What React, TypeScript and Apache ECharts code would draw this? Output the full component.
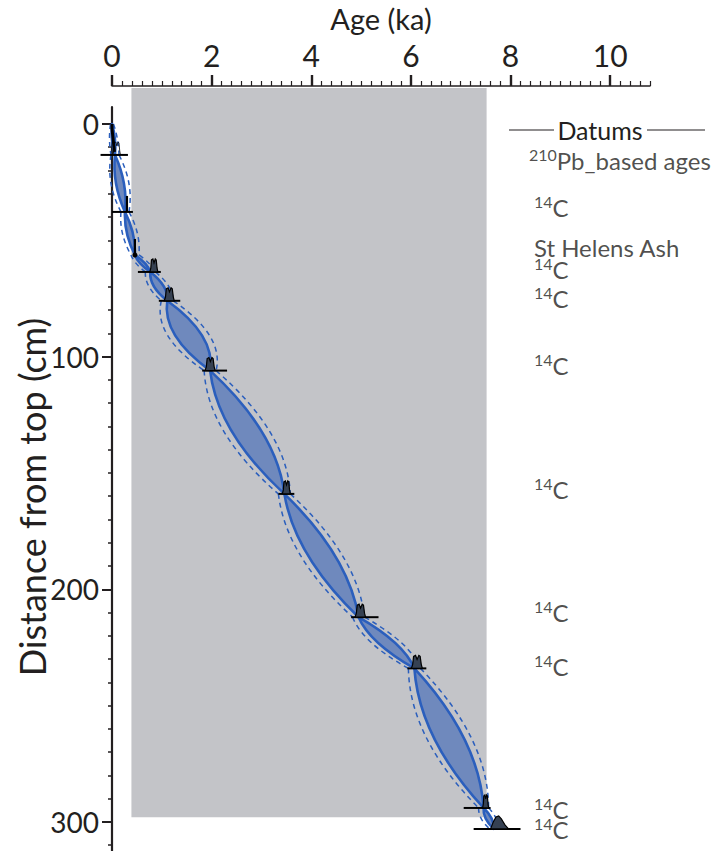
import React, { useEffect, useRef } from 'react';
import * as echarts from 'echarts';

// ---------- axes ----------
const X_MAX = 10.8;
const Y_MIN = -7.3;
const Y_MAX = 312.5;
const xMajorTicks = [0, 2, 4, 6, 8, 10];
const xMinorTicks = [0.2, 0.4, 0.6, 0.8, 1, 1.2, 1.4, 1.6, 1.8, 2.2, 2.4, 2.6, 2.8, 3, 3.2, 3.4, 3.6, 3.8, 4.2, 4.4, 4.6, 4.8, 5, 5.2, 5.4, 5.6, 5.8, 6.2, 6.4, 6.6, 6.8, 7, 7.2, 7.4, 7.6, 7.8, 8.2, 8.4, 8.6, 8.8, 9, 9.2, 9.4, 9.6, 9.8, 10.2, 10.4, 10.6, 10.8];
const yMajorTicks = [0, 100, 200, 300];
const yMinorTicks = [10, 20, 30, 40, 50, 60, 70, 80, 90, 110, 120, 130, 140, 150, 160, 170, 180, 190, 210, 220, 230, 240, 250, 260, 270, 280, 290, 310];

// ---------- shaded age window ----------
const shadeAges = [0.39, 7.52];
const shadeDepths = [-15.5, 298];

// ---------- age model (anchor points through the datums) ----------
const anchorAges = [0.0, 0.06, 0.26, 0.46, 0.77, 1.11, 1.97, 3.46, 4.95, 6.07, 7.46, 7.66];
const anchorDepths = [0, 13.3, 37.8, 56.3, 63.6, 76, 106, 159, 212, 234, 294, 303];
// half-width (ka) of the solid envelope at the middle of each segment
const bandHalfWidth = [0.03, 0.08, 0.06, 0.05, 0.1, 0.27, 0.3, 0.27, 0.17, 0.3, 0.06];
// half-width (ka) of the dashed envelope at the middle of each segment
const dashHalfWidth = [0.08, 0.18, 0.15, 0.13, 0.2, 0.42, 0.46, 0.42, 0.3, 0.45, 0.15];
// half-width (ka) of the dashed envelope at each anchor
const dashWaist = [0.03, 0.08, 0.08, 0.08, 0.1, 0.12, 0.12, 0.12, 0.12, 0.12, 0.1, 0.08];

// ---------- 210Pb dates ----------
const pbDepths = [0, 2, 4, 6, 8, 10, 12];
const pbAges = [0.0, 0.0, 0.01, 0.02, 0.03, 0.04, 0.05];

// ---------- datums ----------
const datumDepths = [13.3, 37.8, 56.3, 63.6, 76, 106, 159, 212, 234, 294, 303];
const datumLo = [-0.23, 0.0, 0.46, 0.52, 0.94, 1.81, 3.34, 4.8, 5.93, 7.06, 7.26];
const datumHi = [0.32, 0.42, 0.46, 0.98, 1.37, 2.31, 3.66, 5.35, 6.31, 7.6, 8.2];
const peakLo = [0.02, 0.3, 0.46, 0.76, 1.05, 1.87, 3.42, 4.88, 6.01, 7.44, 7.6];
const peakHi = [0.17, 0.3, 0.46, 0.92, 1.25, 2.07, 3.58, 5.09, 6.23, 7.56, 7.96];

// ---------- datum labels ----------
const labelSup = ['210', '14', '', '14', '14', '14', '14', '14', '14', '14', '14'];
const labelMain = ['Pb_based ages', 'C', 'St Helens Ash', 'C', 'C', 'C', 'C', 'C', 'C', 'C', 'C'];
const labelAges = [8.36, 8.46, 8.46, 8.46, 8.46, 8.46, 8.46, 8.46, 8.46, 8.46, 8.46];
const labelDepths = [15.9, 36.1, 53.3, 62.7, 75.2, 103.6, 157.3, 210, 233.4, 294.8, 303.4];

const FONT = 'Lato';
const TXT = '#231f20';
const GRAY = '#c3c4c8';
const BLUE = '#2b5fbd';
const BAND_FILL = '#6f89bd';

const Lens = (echarts.graphic as any).extendShape({
  type: 'lens',
  shape: { x1: 0, y1: 0, x2: 0, y2: 0, lx: 0, ly: 0, rx: 0, ry: 0 },
  buildPath(ctx: any, s: any) {
    ctx.moveTo(s.x1, s.y1);
    ctx.quadraticCurveTo(s.lx, s.ly, s.x2, s.y2);
    ctx.quadraticCurveTo(s.rx, s.ry, s.x1, s.y1);
    ctx.closePath();
  },
});
const QCurve = (echarts.graphic as any).extendShape({
  type: 'qcurve',
  shape: { x1: 0, y1: 0, x2: 0, y2: 0, cx: 0, cy: 0 },
  buildPath(ctx: any, s: any) {
    ctx.moveTo(s.x1, s.y1);
    ctx.quadraticCurveTo(s.cx, s.cy, s.x2, s.y2);
  },
});
(echarts.graphic as any).registerShape('lens', Lens);
(echarts.graphic as any).registerShape('qcurve', QCurve);

const segmentData = anchorAges.slice(0, -1).map((a, i) => [
  a, anchorDepths[i], anchorAges[i + 1], anchorDepths[i + 1],
  bandHalfWidth[i], dashHalfWidth[i], dashWaist[i], dashWaist[i + 1],
]);

function renderShade(params: any, api: any) {
  const p0 = api.coord([api.value(0), api.value(2)]);
  const p1 = api.coord([api.value(1), api.value(3)]);
  return {
    type: 'rect',
    shape: { x: p0[0], y: p0[1], width: p1[0] - p0[0], height: p1[1] - p0[1] },
    style: { fill: GRAY },
  };
}

function renderBand(params: any, api: any) {
  const p0 = api.coord([api.value(0), api.value(1)]);
  const p1 = api.coord([api.value(2), api.value(3)]);
  const k = api.size([1, 0])[0];
  const hw = api.value(4) * k;
  const dh = api.value(5) * k;
  const w0 = api.value(6) * k;
  const w1 = api.value(7) * k;
  const mx = (p0[0] + p1[0]) / 2;
  const my = (p0[1] + p1[1]) / 2;
  const dashL = { x1: p0[0] - w0, y1: p0[1], x2: p1[0] - w1, y2: p1[1] };
  const dashR = { x1: p0[0] + w0, y1: p0[1], x2: p1[0] + w1, y2: p1[1] };
  const chordL = (dashL.x1 + dashL.x2) / 2;
  const chordR = (dashR.x1 + dashR.x2) / 2;
  const dashStyle = { fill: 'none', stroke: BLUE, lineWidth: 1.5, lineDash: [5, 4] };
  return {
    type: 'group',
    children: [
      {
        type: 'lens',
        shape: { x1: p0[0], y1: p0[1], x2: p1[0], y2: p1[1], lx: mx - 2 * hw, ly: my, rx: mx + 2 * hw, ry: my },
        style: { fill: BAND_FILL, stroke: BLUE, lineWidth: 2.6, lineJoin: 'round' },
      },
      {
        type: 'qcurve',
        shape: { ...dashL, cx: 2 * (mx - dh) - chordL, cy: my },
        style: dashStyle,
      },
      {
        type: 'qcurve',
        shape: { ...dashR, cx: 2 * (mx + dh) - chordR, cy: my },
        style: dashStyle,
      },
    ],
  };
}

function renderDatum(params: any, api: any) {
  const i = params.dataIndex;
  const d = datumDepths[i];
  const a = api.coord([datumLo[i], d]);
  const b = api.coord([datumHi[i], d]);
  const pl = api.coord([peakLo[i], d]);
  const ph = api.coord([peakHi[i], d]);
  const y = a[1];
  const H = 13;
  const children: any[] = [];
  if (b[0] - a[0] > 1) {
    children.push({ type: 'line', shape: { x1: a[0], y1: y, x2: b[0], y2: y }, style: { stroke: '#000', lineWidth: 2 } });
  }
  const w = ph[0] - pl[0];
  if (w < 1) {
    children.push({ type: 'line', shape: { x1: pl[0], y1: y, x2: pl[0], y2: y - H - 3 }, style: { stroke: '#000', lineWidth: 2.2 } });
    if (i === 2) {
      children.push({ type: 'circle', shape: { cx: pl[0], cy: y, r: 2.5 }, style: { fill: '#000' } });
    }
  } else {
    const x0 = pl[0];
    const pts = i === datumDepths.length - 1
      ? [[x0, y], [x0 + 0.15 * w, y - 7], [x0 + 0.3 * w, y - 12], [x0 + 0.45 * w, y - 13], [x0 + 0.6 * w, y - 10], [x0 + 0.8 * w, y - 4], [x0 + w, y]]
      : [[x0, y], [x0 + 0.12 * w, y - 4], [x0 + 0.2 * w, y - 12], [x0 + 0.38 * w, y - 13], [x0 + 0.52 * w, y - 9], [x0 + 0.68 * w, y - 13], [x0 + 0.8 * w, y - 12], [x0 + 0.9 * w, y - 4], [x0 + w, y]];
    children.push({
      type: 'polygon',
      shape: { points: pts },
      style: i === 0
        ? { fill: 'none', stroke: '#000', lineWidth: 0.8 }
        : { fill: '#364152', stroke: '#000', lineWidth: 1.2 },
    });
  }
  return { type: 'group', children };
}

const labelData = labelMain.map((m, i) => ({
  value: [labelAges[i], labelDepths[i]],
  label: { formatter: labelSup[i] ? `{s|${labelSup[i]}}{n|${m}}` : `{n|${m}}` },
}));

const option: any = {
  animation: false,
  backgroundColor: '#ffffff',
  textStyle: { fontFamily: FONT },
  grid: { left: 112, top: 107, width: 538, height: 744, containLabel: false, outerBoundsMode: 'none' },
  xAxis: [
    {
      type: 'value', position: 'top', offset: 21, min: 0, max: X_MAX, interval: 2,
      name: 'Age (ka)', nameLocation: 'middle', nameGap: 53,
      nameTextStyle: { fontSize: 29, color: TXT, fontFamily: FONT },
      axisLine: { show: true, onZero: false, lineStyle: { color: TXT, width: 1.5 } },
      axisTick: { show: true, inside: false, length: 11, lineStyle: { color: TXT, width: 2.4 }, customValues: xMajorTicks },
      axisLabel: { show: true, margin: 16, fontSize: 30, color: TXT, fontFamily: FONT, customValues: xMajorTicks },
      splitLine: { show: false },
    },
    {
      type: 'value', position: 'top', offset: 21, min: 0, max: X_MAX, interval: 0.2,
      axisLine: { show: false, onZero: false },
      axisTick: { show: true, inside: false, length: 5, lineStyle: { color: TXT, width: 1.2 }, customValues: xMinorTicks },
      axisLabel: { show: false },
      splitLine: { show: false },
    },
  ],
  yAxis: [
    {
      type: 'value', position: 'left', inverse: true, min: Y_MIN, max: Y_MAX,
      name: 'Distance from top (cm)', nameLocation: 'middle', nameGap: 62, nameRotate: 90,
      nameMoveOverlap: false,
      nameTextStyle: { fontSize: 36, color: TXT, fontFamily: FONT, padding: [0, 36, 0, 0] },
      axisLine: { show: true, onZero: false, lineStyle: { color: TXT, width: 2.2 } },
      axisTick: { show: true, inside: false, length: 10, lineStyle: { color: TXT, width: 2 }, customValues: yMajorTicks },
      axisLabel: { show: true, margin: 13, fontSize: 28, color: TXT, fontFamily: FONT, customValues: yMajorTicks },
      splitLine: { show: false },
    },
    {
      type: 'value', position: 'left', inverse: true, min: Y_MIN, max: Y_MAX,
      axisLine: { show: false, onZero: false },
      axisTick: { show: true, inside: false, length: 4, lineStyle: { color: TXT, width: 1.5 }, customValues: yMinorTicks },
      axisLabel: { show: false },
      splitLine: { show: false },
    },
  ],
  graphic: [
    { type: 'line', shape: { x1: 509, y1: 130, x2: 554, y2: 130 }, style: { stroke: TXT, lineWidth: 1.2 } },
    {
      type: 'text', x: 600, y: 130,
      style: { text: 'Datums', fill: TXT, font: `25px ${FONT}`, fontSize: 25, fontFamily: FONT, align: 'center', verticalAlign: 'middle', textAlign: 'center', textVerticalAlign: 'middle' },
    },
    { type: 'line', shape: { x1: 647, y1: 130, x2: 705, y2: 130 }, style: { stroke: TXT, lineWidth: 1.2 } },
  ],
  series: [
    {
      type: 'custom', name: 'shade', coordinateSystem: 'cartesian2d', xAxisIndex: 0, yAxisIndex: 0,
      clip: false, silent: true, z: 1,
      renderItem: renderShade,
      data: [[shadeAges[0], shadeAges[1], shadeDepths[0], shadeDepths[1]]],
    },
    {
      type: 'custom', name: 'age model', coordinateSystem: 'cartesian2d', xAxisIndex: 0, yAxisIndex: 0,
      clip: false, silent: true, z: 3,
      renderItem: renderBand,
      data: segmentData,
    },
    {
      type: 'line', name: '210Pb', xAxisIndex: 0, yAxisIndex: 0, z: 4, silent: true,
      symbol: 'none', lineStyle: { color: '#000', width: 3 },
      data: pbAges.map((a, i) => [a, pbDepths[i]]),
    },
    {
      type: 'custom', name: 'datums', coordinateSystem: 'cartesian2d', xAxisIndex: 0, yAxisIndex: 0,
      clip: false, silent: true, z: 5,
      renderItem: renderDatum,
      data: datumDepths.map((d, i) => [datumLo[i], d]),
    },
    {
      type: 'scatter', name: 'labels', xAxisIndex: 0, yAxisIndex: 0, z: 6, silent: true,
      symbolSize: 1, itemStyle: { color: 'rgba(0,0,0,0)' },
      label: {
        show: true, position: 'right', distance: 0, color: TXT, fontFamily: FONT,
        rich: {
          s: { fontSize: 16, lineHeight: 17, verticalAlign: 'top', color: TXT, fontFamily: FONT },
          n: { fontSize: 24, lineHeight: 28, color: TXT, fontFamily: FONT },
        },
      },
      data: labelData,
    },
  ],
};

export default function App() {
  const ref = useRef<HTMLDivElement>(null);
  useEffect(() => {
    const chart = echarts.init(ref.current!, null, { renderer: 'svg' });
    chart.setOption(option);
    return () => chart.dispose();
  }, []);
  return (
    <div
      ref={ref}
      style={{ position: 'fixed', left: 0, top: 0, width: 718, height: 851, background: '#ffffff' }}
    />
  );
}
